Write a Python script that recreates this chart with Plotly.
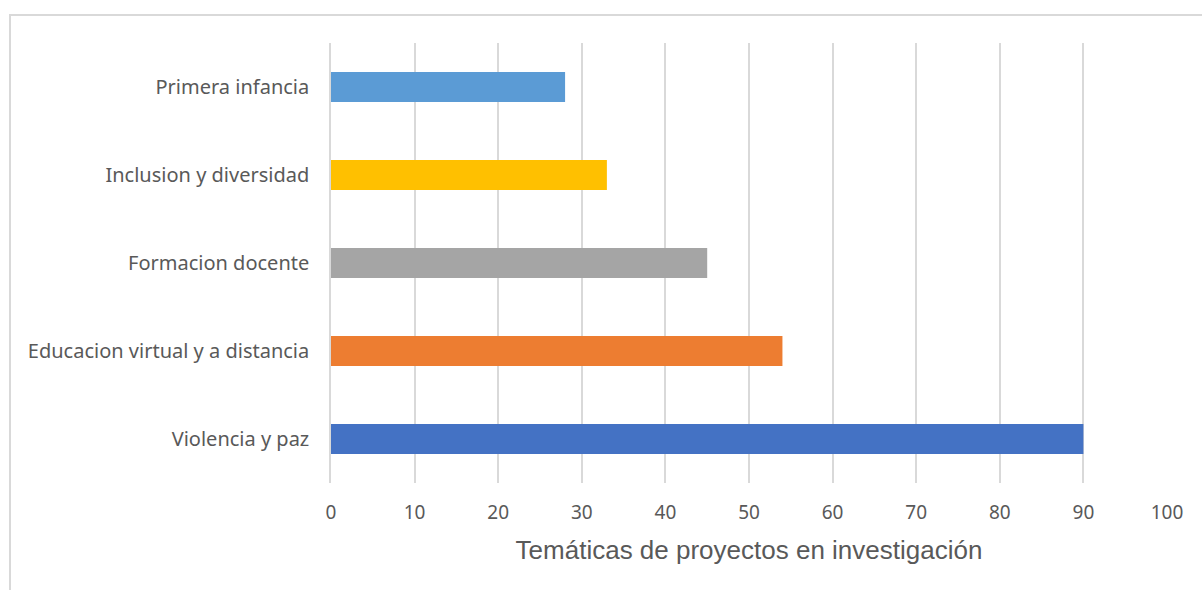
import plotly.graph_objects as go

categories = ["Violencia y paz", "Educacion virtual y a distancia", "Formacion docente",
              "Inclusion y diversidad", "Primera infancia"]
values = [90, 54, 45, 33, 28]
colors = ["#4472C4", "#ED7D31", "#A5A5A5", "#FFC000", "#5B9BD5"]
x_ticks = [0, 10, 20, 30, 40, 50, 60, 70, 80, 90, 100]
x_title = "Temáticas de proyectos en investigación"

fig = go.Figure(go.Bar(
    x=values, y=categories, orientation="h",
    marker=dict(color=colors, line=dict(width=0)),
    width=0.34, hoverinfo="x+y",
))

fig.update_layout(
    width=1202, height=590,
    margin=dict(l=331, r=35, t=43, b=107),
    paper_bgcolor="white", plot_bgcolor="white",
    showlegend=False,
    font=dict(family="Noto Sans, sans-serif", color="#595959"),
    xaxis=dict(
        range=[0, 100], tickvals=x_ticks, showgrid=True, gridcolor="#D9D9D9", gridwidth=1.5,
        zeroline=False, showline=False, ticks="", ticklabelstandoff=16,
        tickfont=dict(size=19, family="Noto Sans, sans-serif", color="#595959"),
        title=dict(text=x_title, standoff=16,
                   font=dict(size=26, family="Liberation Sans, Arial, sans-serif", color="#595959")),
        fixedrange=True,
    ),
    yaxis=dict(
        type="category", categoryorder="array", categoryarray=categories,
        showgrid=False, zeroline=False, showline=True, linecolor="#D9D9D9", linewidth=1.5,
        ticks="", ticklabelstandoff=16,
        tickfont=dict(size=20, family="Noto Sans, sans-serif", color="#595959"),
        fixedrange=True,
    ),
    shapes=[dict(type="rect", xref="paper", yref="paper",
                 x0=(10 - 331) / 836, x1=(1250 - 331) / 836,
                 y0=(483 - 640) / 440, y1=(483 - 15) / 440,
                 line=dict(color="#D9D9D9", width=2), fillcolor="rgba(0,0,0,0)", layer="below")],
)

fig.write_html("out.html", config={"displayModeBar": False},
               post_script="document.body.style.margin='0';document.body.style.overflow='hidden';")
